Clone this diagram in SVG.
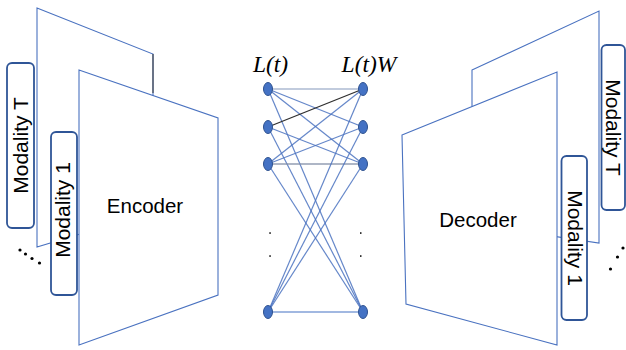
<svg xmlns="http://www.w3.org/2000/svg" width="626" height="350" viewBox="0 0 626 350">
<style>
.trap{fill:#ffffff;stroke:#4a72c0;stroke-width:1.1}
.box{fill:#ffffff;stroke:#2f5597;stroke-width:1.8}
.lbl{font-family:"Liberation Sans",Arial,sans-serif;font-size:21px;fill:#000}
.big{font-family:"Liberation Sans",Arial,sans-serif;font-size:20.5px;fill:#000;text-anchor:middle}
.math{font-family:"Liberation Serif","Times New Roman",serif;font-style:italic;font-size:23.5px;fill:#000;text-anchor:middle}
.e{stroke:#4a72c0;stroke-width:1.2;stroke-opacity:0.85;fill:none}
.node{fill:#4472c4;stroke:#2f528f;stroke-width:1}
.dot{fill:#000}
</style>
<rect width="626" height="350" fill="#ffffff"/>

<g id="encoder-back">
<polygon class="trap" points="37,8 153,54 153,212 37,247"/>
<line x1="153" y1="54" x2="153" y2="93" stroke="#404040" stroke-width="1.1"/>
</g>
<g id="modality-T-left">
<rect class="box" x="7" y="63" width="27" height="165" rx="5"/>
<text class="lbl" text-anchor="middle" transform="translate(28,145.5) rotate(-90)">Modality T</text>
</g>
<g id="modality-1-left">
<rect class="box" x="51" y="132" width="26" height="163" rx="5"/>
<text class="lbl" text-anchor="middle" transform="translate(70,210) rotate(-90)">Modality 1</text>
</g>
<g id="encoder">
<polygon class="trap" points="79,70 218,118 218,295 79,345"/>
<text class="big" x="145" y="213">Encoder</text>
</g>
<g id="dots-left">
<circle class="dot" cx="20" cy="250" r="1.6"/>
<circle class="dot" cx="25.5" cy="254" r="1.6"/>
<circle class="dot" cx="32" cy="258.5" r="1.6"/>
<circle class="dot" cx="39.5" cy="263" r="1.6"/>
</g>

<g id="decoder-back">
<polygon class="trap" points="472,70 599,11 599,243 472,224"/>
</g>
<g id="decoder">
<polygon class="trap" points="402,135 557,72 557,345 406,304"/>
<text class="big" x="478" y="227">Decoder</text>
</g>
<g id="modality-T-right">
<rect class="box" x="601.5" y="45" width="23.5" height="165" rx="5"/>
<text class="lbl" text-anchor="middle" transform="translate(606,127.5) rotate(90)">Modality T</text>
</g>
<g id="modality-1-right">
<rect class="box" x="561.5" y="156" width="25.5" height="164" rx="5"/>
<text class="lbl" text-anchor="middle" transform="translate(567.5,238) rotate(90)">Modality 1</text>
</g>
<g id="dots-right">
<circle class="dot" cx="623" cy="248" r="1.6"/>
<circle class="dot" cx="617.5" cy="257" r="1.6"/>
<circle class="dot" cx="610.5" cy="269" r="1.6"/>
</g>

<g id="connectors">
<line class="e" x1="268" y1="89" x2="363" y2="89" style="stroke:#6f86b0"/>
<line class="e" x1="268" y1="89" x2="363" y2="127"/>
<line class="e" x1="268" y1="89" x2="363" y2="164"/>
<line class="e" x1="268" y1="89" x2="363" y2="312"/>
<line class="e" x1="268" y1="127" x2="363" y2="89" style="stroke:#303030;stroke-opacity:1"/>
<line class="e" x1="268" y1="127" x2="363" y2="164"/>
<line class="e" x1="268" y1="127" x2="363" y2="312"/>
<line class="e" x1="268" y1="164" x2="363" y2="89"/>
<line class="e" x1="268" y1="164" x2="363" y2="127"/>
<line class="e" x1="268" y1="164" x2="363" y2="164" style="stroke:#7f8ca6;stroke-width:1.5"/>
<line class="e" x1="268" y1="164" x2="363" y2="312"/>
<line class="e" x1="268" y1="312" x2="363" y2="89"/>
<line class="e" x1="268" y1="312" x2="363" y2="127"/>
<line class="e" x1="268" y1="312" x2="363" y2="164"/>
<line class="e" x1="268" y1="312" x2="363" y2="312" style="stroke:#4472c4;stroke-opacity:1"/>
</g>

<g id="layer-L">
<text class="math" x="270.5" y="72">L(t)</text>
<ellipse class="node" cx="268" cy="89" rx="4.5" ry="6.5"/>
<ellipse class="node" cx="268" cy="127" rx="4.5" ry="6.5"/>
<ellipse class="node" cx="268" cy="164" rx="4.5" ry="6.5"/>
<ellipse class="node" cx="268" cy="312" rx="4.5" ry="6.5"/>
<rect class="dot" x="269.3" y="232.3" width="1.5" height="1.5"/>
<rect class="dot" x="269.3" y="255.3" width="1.5" height="1.5"/>
</g>
<g id="layer-LW">
<text class="math" x="369" y="72">L(t)W</text>
<ellipse class="node" cx="363" cy="89" rx="4.5" ry="6.5"/>
<ellipse class="node" cx="363" cy="127" rx="4.5" ry="6.5"/>
<ellipse class="node" cx="363" cy="164" rx="4.5" ry="6.5"/>
<ellipse class="node" cx="363" cy="312" rx="4.5" ry="6.5"/>
<rect class="dot" x="360" y="232.3" width="1.5" height="1.5"/>
<rect class="dot" x="360" y="255.3" width="1.5" height="1.5"/>
</g>
</svg>
